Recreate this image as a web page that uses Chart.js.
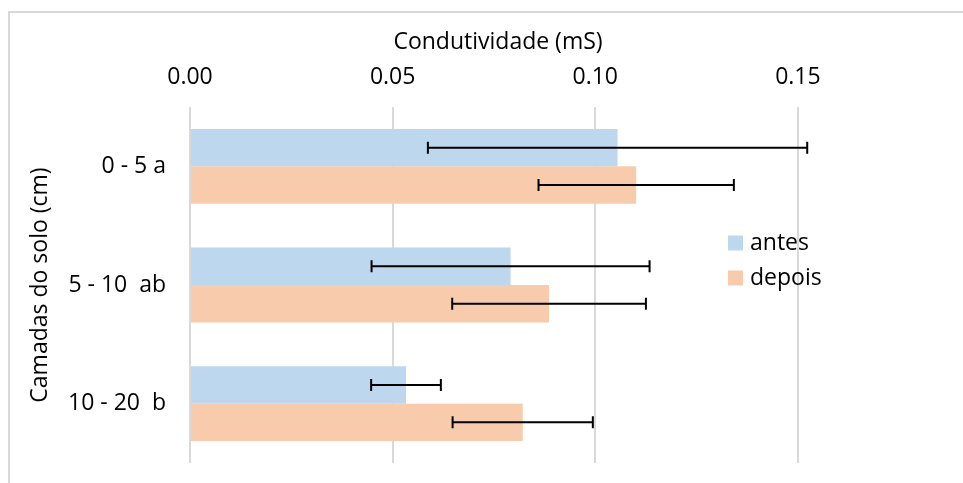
<!DOCTYPE html>
<html>
<head>
<meta charset="utf-8">
<script src="https://cdn.jsdelivr.net/npm/chart.js@4/dist/chart.umd.min.js"></script>
<style>
  html, body { margin: 0; padding: 0; background: #fff; }
  #wrap { position: relative; width: 963px; height: 483px; }
  #frame { position: absolute; left: 8px; top: 11px; right: 0; bottom: 0;
    border-top: 2px solid #d9d9d9; border-left: 2px solid #d9d9d9; }
  canvas { position: absolute; left: 0; top: 0; }
</style>
</head>
<body>
<div id="wrap">
  <div id="frame"></div>
  <canvas id="grafico" width="963" height="483"></canvas>
</div>
<script>
// camadas do solo
const camadas = ['0 - 5 a', '5 - 10  ab', '10 - 20  b']

// condutividade media (mS)
const antes = [0.1055, 0.0791, 0.0533]
const depois = [0.1101, 0.0886, 0.0821]

// desvio (barras de erro)
const erroAntes = [0.0468, 0.0343, 0.0086]
const erroDepois = [0.0241, 0.0239, 0.0173]

const ticksX = [0, 0.05, 0.10, 0.15]

const fonte = '"Open Sans", sans-serif'

/**
 * barras de erro horizontais, desenhadas com a escala x
 */
const barrasErro = {
  id: 'barrasErro',
  afterDatasetsDraw(chart) {
    const ctx = chart.ctx
    const x = chart.scales.x
    const erros = [erroAntes, erroDepois]
    ctx.save()
    ctx.strokeStyle = '#000'
    ctx.lineWidth = 2
    chart.data.datasets.forEach((ds, i) => {
      const meta = chart.getDatasetMeta(i)
      meta.data.forEach((barra, j) => {
        const v = ds.data[j]
        const e = erros[i][j]
        const x1 = x.getPixelForValue(v - e)
        const x2 = x.getPixelForValue(v + e)
        const y = barra.y
        ctx.beginPath()
        ctx.moveTo(x1, y); ctx.lineTo(x2, y)
        ctx.moveTo(x1, y - 6); ctx.lineTo(x1, y + 6)
        ctx.moveTo(x2, y - 6); ctx.lineTo(x2, y + 6)
        ctx.stroke()
      })
    })
    ctx.restore()
  }
}

/**
 * legenda dentro da area do grafico
 */
const legenda = {
  id: 'legenda',
  afterDraw(chart) {
    const ctx = chart.ctx
    ctx.save()
    ctx.font = '23px ' + fonte
    ctx.textBaseline = 'middle'
    chart.data.datasets.forEach((ds, i) => {
      const y = 243 + i * 35
      ctx.fillStyle = ds.backgroundColor
      ctx.fillRect(728, y - 7.5, 15, 15)
      ctx.fillStyle = '#000'
      ctx.fillText(ds.label, 750, y)
    })
    ctx.restore()
  }
}

document.addEventListener('DOMContentLoaded', () => {
  const ctx = document.getElementById('grafico')

  new Chart(ctx, {
    type: 'bar',
    data: {
      labels: camadas,
      datasets: [
        { label: 'antes', data: antes, backgroundColor: '#BDD7EE' },
        { label: 'depois', data: depois, backgroundColor: '#F8CBAD' }
      ]
    },
    options: {
      indexAxis: 'y',
      responsive: false,
      animation: false,
      categoryPercentage: 0.63,
      barPercentage: 1.0,
      layout: { padding: { left: 10, top: 12, right: 157, bottom: 20 } },
      plugins: {
        legend: { display: false },
        tooltip: { enabled: false }
      },
      scales: {
        x: {
          position: 'top',
          min: 0,
          max: 0.152,
          afterBuildTicks: scale => {
            scale.ticks = ticksX.map(v => ({ value: v }))
          },
          afterFit: scale => { scale.height = 95 },
          ticks: {
            color: '#000',
            font: { family: fonte, size: 23 },
            padding: 16,
            callback: v => Number(v).toFixed(2)
          },
          grid: { color: '#d9d9d9', lineWidth: 2, drawTicks: false },
          border: { display: false },
          title: {
            display: true,
            text: 'Condutividade (mS)',
            color: '#000',
            font: { family: fonte, size: 23 },
            padding: { top: 17, bottom: 0 }
          }
        },
        y: {
          afterFit: scale => {
            scale.width = 180
            // sem folga extra em cima e embaixo
            scale.paddingTop = 0
            scale.paddingBottom = 0
          },
          ticks: {
            color: '#000',
            font: { family: fonte, size: 23 },
            padding: 24
          },
          grid: { display: false, drawTicks: false },
          border: { display: false },
          title: {
            display: true,
            text: 'Camadas do solo (cm)',
            color: '#000',
            font: { family: fonte, size: 23 },
            padding: { top: 17, bottom: 0 }
          }
        }
      }
    },
    plugins: [barrasErro, legenda]
  })
})
</script>
</body>
</html>
